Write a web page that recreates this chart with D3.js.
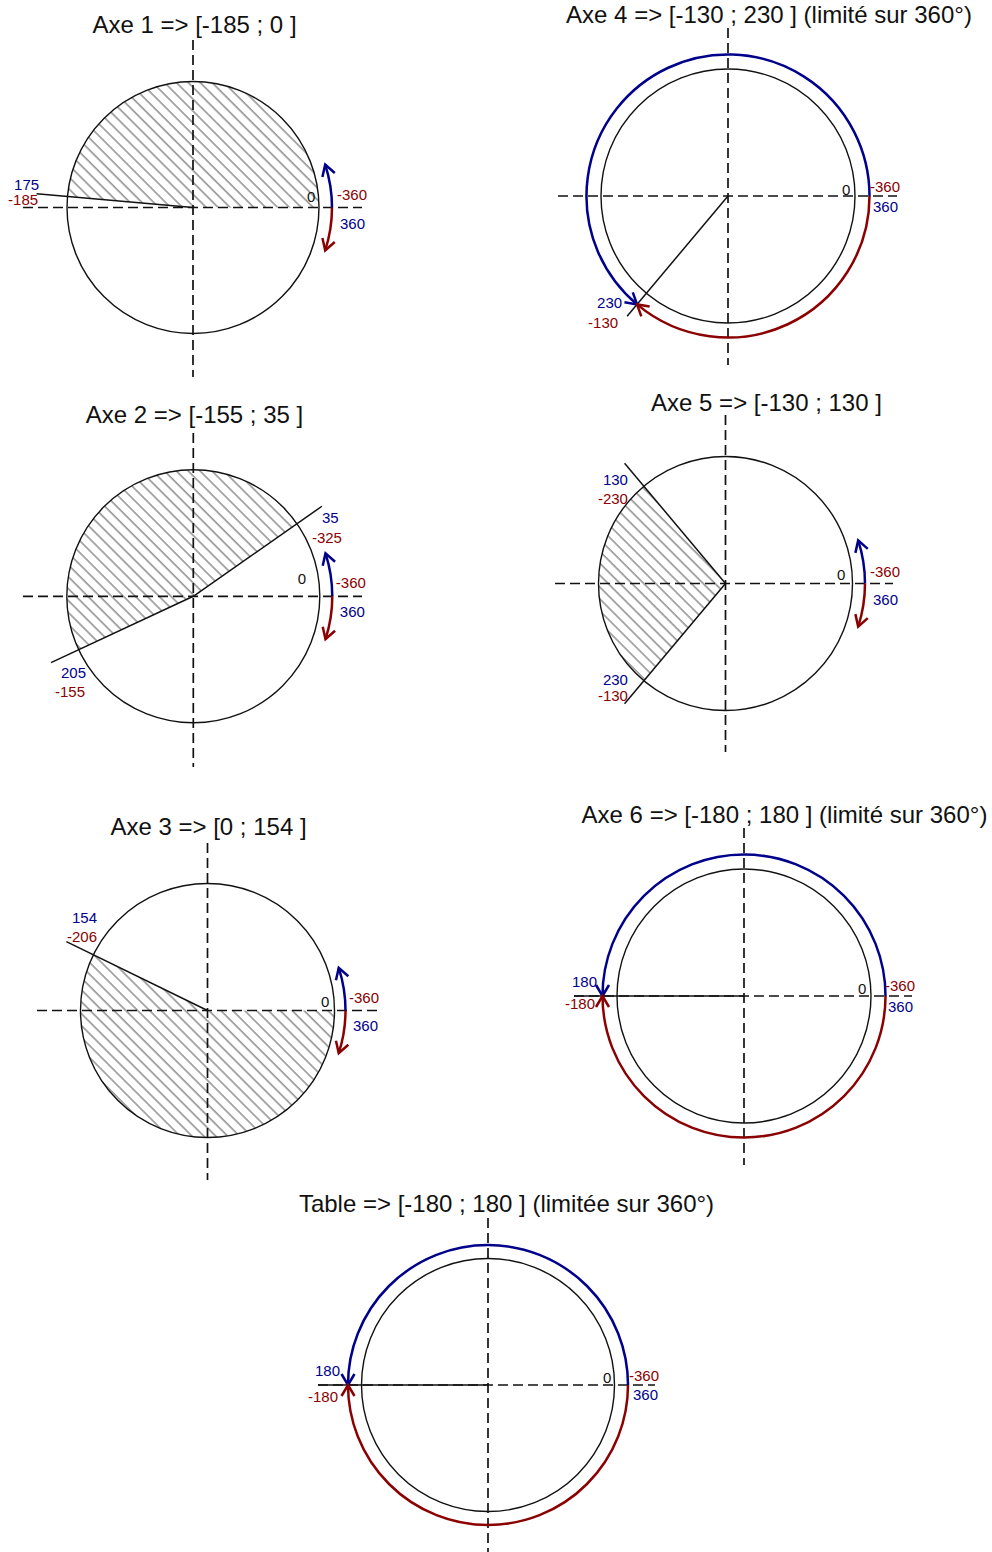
<!DOCTYPE html>
<html>
<head>
<meta charset="utf-8">
<script src="https://cdn.jsdelivr.net/npm/d3@7"></script>
<style>
  html, body { margin: 0; padding: 0; background: #fff; }
  svg { display: block; font-family: "Liberation Sans", Arial, sans-serif; }
</style>
</head>
<body>
<svg id="chart" width="992" height="1552"></svg>
<script>
// ---------------- data ----------------
const panelNames  = ["Axe 1", "Axe 2", "Axe 3", "Axe 4", "Axe 5", "Axe 6", "Table"];
const rangeMin    = [-185, -155, 0, -130, -130, -180, -180];
const rangeMax    = [0, 35, 154, 230, 130, 180, 180];
const limitedFull = [false, false, false, true, false, true, true];
const titleSuffix = ["", "", "", " (limité sur 360°)", "", " (limité sur 360°)", " (limitée sur 360°)"];
const zeroLabel   = "0";
const turnLabels  = [-360, 360];   // red, blue
const turnSpan    = 18;            // degrees of the small rotation arrows

// ---------------- layout (positions / sizes only) ----------------
const layout = [
  { cx: 193,   cy: 207.5,  r: 126,   tx: 194.5, ty: 33,   hx: [23, 362],  vy: [40, 377],
    lineLen: 157, rotR: 139, zero: [-12, -5.5], neg: [18, -7.5], pos: [21, 21.5],
    lbl: { min: { anchor: "end", blue: [2.5, -4], red: [1.5, 11] } } },
  { cx: 193.3, cy: 596.3,  r: 126.5, tx: 194.5, ty: 423,  hx: [23, 362],  vy: [433, 767],
    lineLen: 157, rotR: 139, zero: [-22, -12], neg: [16, -8], pos: [20, 21],
    lbl: { min: { anchor: "start", blue: [10, 15], red: [4, 34] },
           max: { anchor: "start", blue: [0, 17], red: [-10, 37] } } },
  { cx: 207.5, cy: 1010.5, r: 127,   tx: 208.5, ty: 835,  hx: [37, 377],  vy: [843, 1180],
    lineLen: 157, rotR: 138, zero: [-13.5, -3.5], neg: [14.5, -7.5], pos: [18.5, 20.5],
    lbl: { max: { anchor: "start", blue: [5.6, -19], red: [0.6, 0] } } },
  { cx: 728,   cy: 196,    r: 127,   tx: 769,   ty: 23,   hx: [558, 897], vy: [28, 365],
    lineLen: 157, outerR: 141.5, zero: [-13, -1], neg: [15, -4], pos: [18, 16],
    lbl: { max: { anchor: "end", blue: [-5, -8], red: [-9, 12] } } },
  { cx: 725.5, cy: 583.5,  r: 127,   tx: 766.5, ty: 411,  hx: [555, 893], vy: [415, 752],
    lineLen: 157, rotR: 139.5, zero: [-15.5, -3.5], neg: [17.5, -6.5], pos: [20.5, 21.5],
    lbl: { min: { anchor: "end", blue: [3.4, -18.5], red: [3.4, -3] },
           max: { anchor: "end", blue: [3.4, 22], red: [3.4, 41] } } },
  { cx: 744,   cy: 996,    r: 127,   tx: 784.5, ty: 823,  hx: [574, 912], vy: [828, 1165],
    lineLen: 170, outerR: 141.5, zero: [-13, -2], neg: [14, -5], pos: [17, 16],
    lbl: { max: { anchor: "end", blue: [23, -9], red: [21, 13] } } },
  { cx: 488,   cy: 1385,   r: 126.5, tx: 506.5, ty: 1212, hx: [318, 655], vy: [1218, 1552],
    lineLen: 170, outerR: 140, zero: [-11.5, -2], neg: [14.5, -4], pos: [18.5, 15],
    lbl: { max: { anchor: "end", blue: [22, -9], red: [20, 17] } } }
];

const BLUE = "#00008b", RED = "#8b0000";

// angle scale: degrees (counter-clockwise from east) -> canvas angle (clockwise from east, radians)
const angle = d3.scaleLinear().domain([0, 360]).range([0, -2 * Math.PI]);
const norm = v => ((v % 360) + 360) % 360;
const pt = (L, deg, R) => [L.cx + R * Math.cos(angle(deg)), L.cy + R * Math.sin(angle(deg))];

const svg = d3.select("#chart");
const defs = svg.append("defs");

// hatch pattern
defs.append("pattern")
  .attr("id", "hatch").attr("patternUnits", "userSpaceOnUse")
  .attr("width", 8.4).attr("height", 8.4)
  .attr("patternTransform", "rotate(-45)")
  .append("line").attr("x1", 1).attr("y1", -2).attr("x2", 1).attr("y2", 11)
  .attr("stroke", "#555").attr("stroke-width", 1);

// arrow heads
[["ah-blue", BLUE], ["ah-red", RED]].forEach(([id, c]) => {
  defs.append("marker")
    .attr("id", id).attr("markerUnits", "userSpaceOnUse")
    .attr("markerWidth", 1).attr("markerHeight", 1)
    .attr("refX", 0).attr("refY", 0).attr("orient", "auto")
    .style("overflow", "visible")
    .append("path").attr("d", "M-11,-6.5L0,0L-11,6.5")
    .attr("fill", "none").attr("stroke", c).attr("stroke-width", 2.5)
    .attr("stroke-linejoin", "miter");
});

const sector = d3.arc().innerRadius(0);

panelNames.forEach((name, i) => {
  const L = layout[i];
  const mn = rangeMin[i], mx = rangeMax[i];
  const g = svg.append("g");

  // title
  g.append("text").attr("x", L.tx).attr("y", L.ty)
    .attr("text-anchor", "middle").attr("font-size", 24).attr("fill", "#111")
    .text(`${name} => [${mn} ; ${mx} ]${titleSuffix[i]}`);

  // hatched forbidden sector (from max, counter-clockwise, to min + 360)
  if (!limitedFull[i]) {
    const a1 = mx, a2 = mn + 360;
    g.append("path")
      .attr("transform", `translate(${L.cx},${L.cy})`)
      .attr("d", sector.outerRadius(L.r)({
        startAngle: Math.PI / 2 + angle(a2),
        endAngle: Math.PI / 2 + angle(a1)
      }))
      .attr("fill", "url(#hatch)");
  }

  // circle
  g.append("circle").attr("cx", L.cx).attr("cy", L.cy).attr("r", L.r)
    .attr("fill", "none").attr("stroke", "#111").attr("stroke-width", 1.4);

  // dashed axes
  g.append("line").attr("x1", L.hx[0]).attr("x2", L.hx[1]).attr("y1", L.cy).attr("y2", L.cy)
    .attr("stroke", "#111").attr("stroke-width", 1.7).attr("stroke-dasharray", "10,5");
  g.append("line").attr("x1", L.cx).attr("x2", L.cx).attr("y1", L.vy[0]).attr("y2", L.vy[1])
    .attr("stroke", "#111").attr("stroke-width", 1.7).attr("stroke-dasharray", "10,5");

  // boundary lines + labels
  const bounds = [];
  if (limitedFull[i]) bounds.push({ key: "max", v: mx });
  else {
    if (norm(mn) !== 0) bounds.push({ key: "min", v: mn });
    if (norm(mx) !== 0) bounds.push({ key: "max", v: mx });
  }
  bounds.forEach(b => {
    const deg = norm(b.v);
    const end = pt(L, deg, L.lineLen);
    g.append("line").attr("x1", L.cx).attr("y1", L.cy).attr("x2", end[0]).attr("y2", end[1])
      .attr("stroke", "#111").attr("stroke-width", 1.5);
    const o = L.lbl[b.key];
    g.append("text").attr("x", end[0] + o.blue[0]).attr("y", end[1] + o.blue[1])
      .attr("text-anchor", o.anchor).attr("font-size", 15).attr("fill", BLUE).text(deg);
    g.append("text").attr("x", end[0] + o.red[0]).attr("y", end[1] + o.red[1])
      .attr("text-anchor", o.anchor).attr("font-size", 15).attr("fill", RED).text(deg - 360);
  });

  // direction arcs
  const R = limitedFull[i] ? L.outerR : L.rotR;
  const blueEnd = limitedFull[i] ? mx : turnSpan;
  const redEnd = limitedFull[i] ? mn : -turnSpan;
  const pb = d3.path();
  pb.moveTo(L.cx + R, L.cy);
  pb.arc(L.cx, L.cy, R, angle(0), angle(blueEnd), true);
  g.append("path").attr("d", pb.toString()).attr("fill", "none")
    .attr("stroke", BLUE).attr("stroke-width", 2.5).attr("marker-end", "url(#ah-blue)");
  const pr = d3.path();
  pr.moveTo(L.cx + R, L.cy);
  pr.arc(L.cx, L.cy, R, angle(0), angle(redEnd), false);
  g.append("path").attr("d", pr.toString()).attr("fill", "none")
    .attr("stroke", RED).attr("stroke-width", 2.5).attr("marker-end", "url(#ah-red)");

  // 0 / -360 / 360 labels
  const ex = L.cx + L.r, ey = L.cy;
  g.append("text").attr("x", ex + L.zero[0]).attr("y", ey + L.zero[1])
    .attr("font-size", 15).attr("fill", "#111").text(zeroLabel);
  g.append("text").attr("x", ex + L.neg[0]).attr("y", ey + L.neg[1])
    .attr("font-size", 15).attr("fill", RED).text(turnLabels[0]);
  g.append("text").attr("x", ex + L.pos[0]).attr("y", ey + L.pos[1])
    .attr("font-size", 15).attr("fill", BLUE).text(turnLabels[1]);
});
</script>
</body>
</html>
